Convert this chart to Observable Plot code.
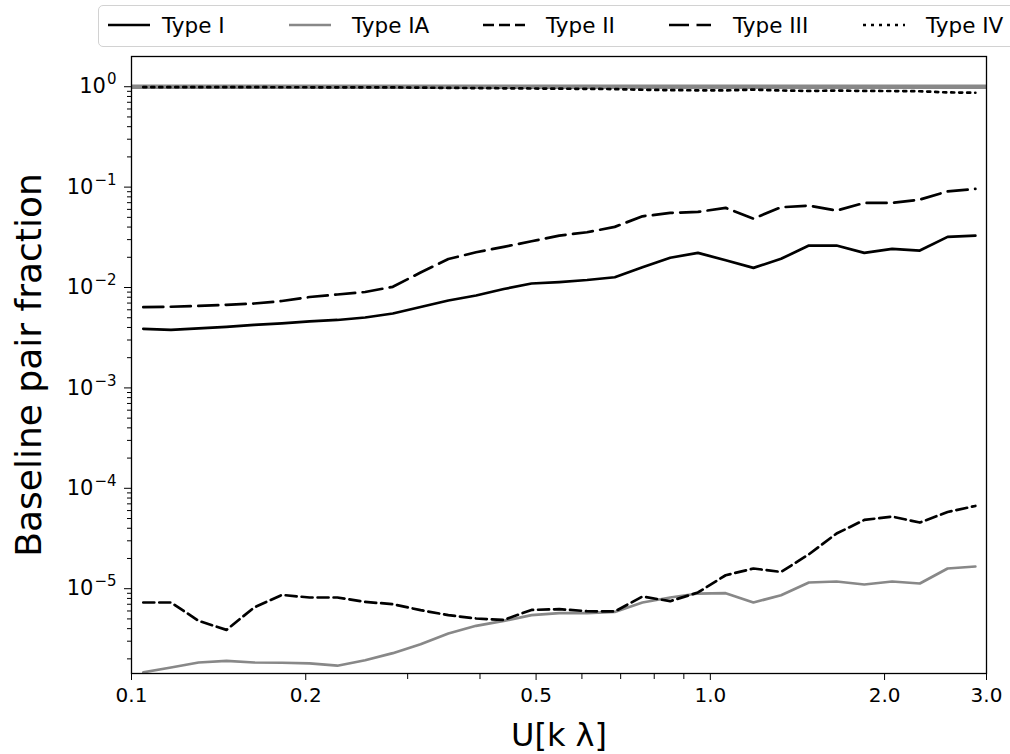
<!DOCTYPE html>
<html><head><meta charset="utf-8">
<script src="https://cdn.jsdelivr.net/npm/d3@7"></script>
<script src="https://cdn.jsdelivr.net/npm/@observablehq/plot@0.6"></script>
<style>
body{margin:0;background:#fff;overflow:hidden;font-family:"DejaVu Sans",sans-serif;}
#wrap{position:relative;width:1010px;height:754px;overflow:hidden;}
#legend{position:absolute;left:98px;top:5px;width:940px;height:42px;border:1.5px solid #d2d2d2;border-radius:5px;background:#fff;box-sizing:border-box;}
</style>
</head><body>
<div id="wrap"><div id="chart"></div><div id="legend"></div></div>
<script>
// U [k lambda] sample positions
const uValues = [0.1048,0.1170,0.1306,0.1459,0.1629,0.1819,0.2031,0.2268,0.2533,0.2828,0.3158,0.3527,0.3938,0.4397,0.4910,0.5483,0.6123,0.6837,0.7634,0.8525,0.9519,1.063,1.187,1.325,1.480,1.652,1.845,2.061,2.301,2.570,2.870];
const typeI = [0.00388,0.00379,0.00391,0.00405,0.00424,0.00439,0.00459,0.00475,0.00503,0.00551,0.00640,0.00743,0.00832,0.00966,0.01096,0.01134,0.01188,0.01266,0.01591,0.01977,0.02215,0.01870,0.01570,0.01931,0.02618,0.02618,0.02215,0.02427,0.02333,0.03192,0.03289];
const typeIA = [1.47e-6,1.64e-6,1.84e-6,1.91e-6,1.84e-6,1.83e-6,1.80e-6,1.71e-6,1.94e-6,2.28e-6,2.80e-6,3.58e-6,4.27e-6,4.78e-6,5.45e-6,5.70e-6,5.70e-6,5.87e-6,7.29e-6,8.17e-6,8.95e-6,9.02e-6,7.29e-6,8.61e-6,1.153e-5,1.180e-5,1.101e-5,1.180e-5,1.127e-5,1.589e-5,1.663e-5];
const typeII = [7.29e-6,7.29e-6,4.78e-6,3.89e-6,6.50e-6,8.67e-6,8.17e-6,8.17e-6,7.39e-6,7.01e-6,6.11e-6,5.45e-6,5.05e-6,4.89e-6,6.15e-6,6.25e-6,5.97e-6,5.93e-6,8.36e-6,7.51e-6,9.17e-6,1.362e-5,1.589e-5,1.469e-5,2.20e-5,3.54e-5,4.84e-5,5.23e-5,4.56e-5,5.81e-5,6.67e-5];
const typeIII = [0.00637,0.00643,0.00655,0.00673,0.00693,0.00734,0.00804,0.00852,0.00902,0.01016,0.01410,0.01922,0.02245,0.02541,0.02889,0.03290,0.03550,0.04018,0.05119,0.05537,0.05666,0.06212,0.04859,0.06298,0.06548,0.05834,0.06966,0.06966,0.07511,0.09078,0.09594];
const typeIV = [0.9897,0.9898,0.9895,0.9892,0.9888,0.9883,0.9874,0.9867,0.9860,0.9843,0.9795,0.9734,0.9692,0.9649,0.9601,0.9558,0.9526,0.9472,0.9329,0.9249,0.9212,0.9192,0.9357,0.9177,0.9083,0.9155,0.9082,0.9061,0.9016,0.8773,0.8712];
const referenceLevel = [1];

const xTicks = [0.1,0.2,0.5,1.0,2.0,3.0];
const xTickLabels = ["0.1","0.2","0.5","1.0","2.0","3.0"];
const xMinorTicks = [0.3,0.4,0.6,0.7,0.8,0.9];
const yTicks = [1e-5,1e-4,1e-3,1e-2,1e-1,1];
const yTickLabels = ["10⁻⁵","10⁻⁴","10⁻³","10⁻²","10⁻¹","10⁰"];
const yTickExponents = ["−5","−4","−3","−2","−1","0"];

const seriesNames = ["Type I","Type IA","Type II","Type III","Type IV"];
const seriesValues = [typeI, typeIA, typeII, typeIII, typeIV];
const seriesStroke = ["black","#888888","black","black","black"];
const seriesDash = [null, null, "11,5", "20,7.5", "3,5"];

const yMinorTicks = [];
for (const p of [-6,-5,-4,-3,-2,-1,0]) for (let m = 2; m <= 9; m++) {
  const v = m * Math.pow(10, p);
  if (v > 1.43e-6 && v < 2.0) yMinorTicks.push(v);
}

const rows = (vals) => uValues.map((u, i) => ({u, v: vals[i]}));

const marks = [
  Plot.ruleY(referenceLevel, {stroke: "#888888", strokeWidth: 4.5}),
];
seriesValues.forEach((vals, k) => {
  marks.push(Plot.line(rows(vals), {x: "u", y: "v", stroke: seriesStroke[k], strokeWidth: 2.7,
    strokeDasharray: seriesDash[k] || undefined, clip: true}));
});
marks.push(
  Plot.axisX({ticks: xMinorTicks, tickSize: 6, tickFormat: () => "", label: null}),
  Plot.axisX({ticks: xTicks, tickSize: 7, tickPadding: 7, fontSize: 20,
    tickFormat: d => xTickLabels[xTicks.indexOf(d)], label: null}),
  Plot.axisY({ticks: yMinorTicks, tickSize: 4, tickFormat: () => "", label: null}),
  Plot.axisY({ticks: yTicks, tickSize: 7, tickPadding: 8, fontSize: 21,
    tickFormat: d => yTickLabels[yTicks.indexOf(d)], label: null}),
  Plot.frame({stroke: "black", strokeWidth: 1.3}),
  Plot.text(["U[k λ]"], {frameAnchor: "bottom", lineAnchor: "middle", textAnchor: "middle", dy: 62, fontSize: 32, fill: "black"}),
  Plot.text(["Baseline pair fraction"], {frameAnchor: "left", textAnchor: "middle", lineAnchor: "middle", dx: -102, rotate: -90, fontSize: 36, fill: "black"})
);

const chart = Plot.plot({
  width: 1010, height: 754,
  marginLeft: 131, marginRight: 24, marginTop: 56, marginBottom: 81,
  x: {type: "log", domain: [0.1, 3.0]},
  y: {type: "log", domain: [1.43e-6, 2.0]},
  style: {fontFamily: "DejaVu Sans", background: "white", color: "black"},
  marks
});
document.getElementById("chart").appendChild(chart);

// render y tick labels as 10 with a raised exponent (mathtext style)
d3.select(chart).selectAll("text").each(function() {
  const t = this.textContent;
  const i = yTickLabels.indexOf(t);
  if (i < 0) return;
  const sel = d3.select(this);
  sel.text("10");
  sel.append("tspan").attr("font-size", 15).attr("dx", 1).attr("dy", -9).text(yTickExponents[i]);
});

// legend
const legendPos = [[9,63],[190,253],[384,447],[570,634],[764,827]];
const lg = d3.select("#legend").append("svg").attr("width", 940).attr("height", 40);
seriesNames.forEach((name, k) => {
  const [hx, tx] = legendPos[k];
  lg.append("line").attr("x1", hx).attr("x2", hx + 42).attr("y1", 19).attr("y2", 19)
    .attr("stroke", seriesStroke[k]).attr("stroke-width", 2.7)
    .attr("stroke-dasharray", seriesDash[k]);
  lg.append("text").attr("x", tx).attr("y", 19).attr("dy", "0.35em")
    .attr("font-size", 21.5).attr("font-family", "DejaVu Sans").text(name);
});
</script>
</body></html>
